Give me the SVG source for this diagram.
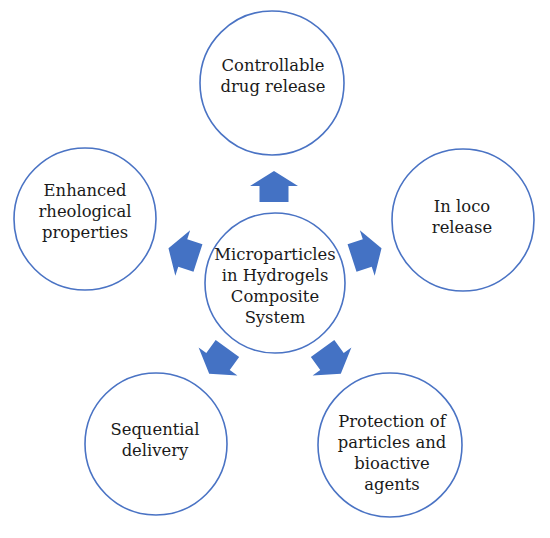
<svg xmlns="http://www.w3.org/2000/svg" xmlns:xlink="http://www.w3.org/1999/xlink" width="550" height="538" viewBox="0 0 550 538">
<style>
.node circle{fill:#fff;stroke:#4a73c4;stroke-width:1.6}
.node text{font-family:"DejaVu Serif","Liberation Serif",serif;font-size:16.4px;fill:#1a1a1a;text-anchor:middle}
.arr{fill:#4472c4}
</style>
<defs>
<path id="blk" d="M16,0 L1,-24 L1,-14.5 L-15,-14.5 L-15,14.5 L1,14.5 L1,24 Z"/>
</defs>
<rect width="550" height="538" fill="#fff"/>
<g id="connectors" class="arr">
<use xlink:href="#blk" transform="translate(274,187) rotate(-90)"/>
<use xlink:href="#blk" transform="translate(366.3,253.3) rotate(-18)"/>
<use xlink:href="#blk" transform="translate(331.4,360.7) rotate(54)"/>
<use xlink:href="#blk" transform="translate(218.6,360.7) rotate(126)"/>
<use xlink:href="#blk" transform="translate(183.7,253.3) rotate(198)"/>
</g>
<g id="center" class="node">
<circle cx="275" cy="283" r="70"/>
<text x="275" y="260">Microparticles</text>
<text x="275" y="281">in Hydrogels</text>
<text x="275" y="302">Composite</text>
<text x="275" y="323">System</text>
</g>
<g id="controllable" class="node">
<circle cx="272" cy="83" r="72"/>
<text x="273" y="71">Controllable</text>
<text x="273" y="92">drug release</text>
</g>
<g id="inloco" class="node">
<circle cx="463" cy="220" r="71"/>
<text x="462" y="212">In loco</text>
<text x="462" y="233">release</text>
</g>
<g id="protection" class="node">
<circle cx="390" cy="445" r="72"/>
<text x="392" y="427">Protection of</text>
<text x="392" y="448">particles and</text>
<text x="392" y="469">bioactive</text>
<text x="392" y="490">agents</text>
</g>
<g id="sequential" class="node">
<circle cx="156" cy="444" r="71"/>
<text x="155" y="435">Sequential</text>
<text x="155" y="456">delivery</text>
</g>
<g id="rheological" class="node">
<circle cx="85" cy="219" r="71"/>
<text x="85" y="196">Enhanced</text>
<text x="85" y="217">rheological</text>
<text x="85" y="238">properties</text>
</g>
</svg>
